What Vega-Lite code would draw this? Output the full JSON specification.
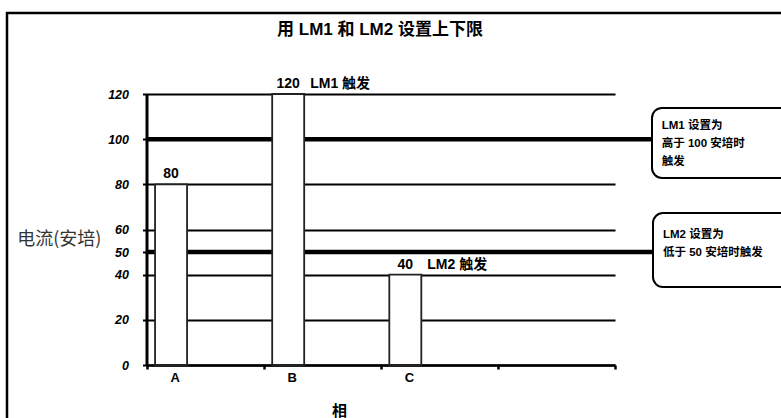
{
  "$schema": "https://vega.github.io/schema/vega-lite/v6.json",
  "width": 777,
  "height": 408,
  "autosize": {"type": "none"},
  "padding": {"left": 7, "top": 13, "right": 0, "bottom": 0},
  "background": "white",
  "config": {"view": {"stroke": "black", "strokeWidth": 2.5}},
  "title": {
    "text": "用 LM1 和 LM2 设置上下限",
    "frame": "group",
    "anchor": "middle",
    "dx": -15.5,
    "offset": -39,
    "baseline": "alphabetic",
    "font": "Liberation Sans, Noto Sans CJK SC",
    "fontSize": 17,
    "fontWeight": "bold",
    "color": "black"
  },
  "datasets": {
    "bars": [
      {"phase": "A", "current": 80, "trigger": ""},
      {"phase": "B", "current": 120, "trigger": "LM1 触发"},
      {"phase": "C", "current": 40, "trigger": "LM2 触发"}
    ],
    "limits": [
      {"limit": "LM1", "current": 100, "note": ["LM1 设置为", "高于 100  安培时", "触发"]},
      {"limit": "LM2", "current": 50, "note": ["LM2 设置为", "低于  50 安培时触发"]}
    ]
  },
  "encoding": {
    "x": {
      "field": "phase",
      "type": "nominal",
      "scale": {"type": "band", "domain": ["A", "B", "C", " "], "range": [139.5, 608], "paddingInner": 0, "paddingOuter": 0},
      "axis": {
        "orient": "bottom",
        "offset": -56,
        "tickBand": "extent",
        "labelOffset": -30.5,
        "labelAngle": 0,
        "labelFont": "Liberation Sans",
        "labelFontSize": 13,
        "labelFontWeight": "bold",
        "labelColor": "black",
        "labelPadding": 2,
        "domainColor": "black",
        "domainWidth": 2.5,
        "tickColor": "black",
        "tickWidth": 2.5,
        "tickSize": 4,
        "grid": false,
        "title": "相",
        "titleX": 332,
        "titleY": 45,
        "titleAlign": "center",
        "titleBaseline": "middle",
        "titleFont": "Noto Sans CJK SC",
        "titleFontSize": 15,
        "titleFontWeight": "bold",
        "titleColor": "black"
      }
    },
    "y": {
      "field": "current",
      "type": "quantitative",
      "scale": {"domain": [0, 120], "range": [352, 81], "nice": false, "zero": true},
      "axis": {
        "values": [0, 20, 40, 50, 60, 80, 100, 120],
        "offset": -139.5,
        "grid": true,
        "gridColor": "black",
        "gridWidth": 2,
        "gridOpacity": 1,
        "domainColor": "black",
        "domainWidth": 3,
        "tickColor": "black",
        "tickWidth": 2,
        "tickSize": 4,
        "labelFont": "Liberation Sans",
        "labelFontSize": 12.5,
        "labelFontStyle": "italic",
        "labelFontWeight": "bold",
        "labelColor": "black",
        "labelPadding": 14,
        "title": "电流(安培)",
        "titleAngle": 0,
        "titleAlign": "left",
        "titleBaseline": "middle",
        "titleX": -129.8,
        "titleY": 226,
        "titleFont": "Noto Sans CJK SC",
        "titleFontSize": 18,
        "titleFontWeight": "normal",
        "titleColor": "#333333"
      }
    }
  },
  "layer": [
    {
      "data": {"name": "limits"},
      "mark": {"type": "rule", "color": "black", "strokeWidth": 4.5, "x2Offset": 45},
      "encoding": {
        "x": {"datum": "A", "bandPosition": 0},
        "x2": {"datum": " ", "bandPosition": 1}
      }
    },
    {
      "data": {"name": "bars"},
      "layer": [
        {
          "mark": {"type": "bar", "width": 32, "xOffset": -34, "fill": "white", "stroke": "#222222", "strokeWidth": 1.8}
        },
        {
          "mark": {"type": "text", "xOffset": -34, "dy": -6, "align": "center", "baseline": "alphabetic", "font": "Liberation Sans", "fontSize": 14, "fontWeight": "bold", "color": "black"},
          "encoding": {"text": {"field": "current", "type": "quantitative"}}
        },
        {
          "mark": {"type": "text", "xOffset": -12, "dy": -6, "align": "left", "baseline": "alphabetic", "font": "Liberation Sans, Noto Sans CJK SC", "fontSize": 14, "fontWeight": "bold", "color": "black"},
          "encoding": {"text": {"field": "trigger", "type": "nominal"}}
        }
      ]
    },
    {
      "data": {"name": "limits"},
      "transform": [{"filter": "datum.limit == 'LM1'"}],
      "layer": [
        {
          "mark": {"type": "rect", "fill": "white", "stroke": "black", "strokeWidth": 2, "cornerRadius": 10, "xOffset": 37, "x2Offset": 190, "yOffset": -31.2, "y2Offset": 38.8},
          "encoding": {
            "x": {"datum": " ", "bandPosition": 1},
            "x2": {"datum": " ", "bandPosition": 1},
            "y2": {"field": "current"}
          }
        },
        {
          "mark": {"type": "text", "align": "left", "baseline": "alphabetic", "lineHeight": 18, "dx": 46.7, "dy": -10.5, "font": "Liberation Sans, Noto Sans CJK SC", "fontSize": 11.5, "fontWeight": "bold", "color": "black"},
          "encoding": {
            "x": {"datum": " ", "bandPosition": 1},
            "text": {"field": "note"}
          }
        }
      ]
    },
    {
      "data": {"name": "limits"},
      "transform": [{"filter": "datum.limit == 'LM2'"}],
      "layer": [
        {
          "mark": {"type": "rect", "fill": "white", "stroke": "black", "strokeWidth": 2, "cornerRadius": 10, "xOffset": 38, "x2Offset": 190, "yOffset": -39, "y2Offset": 35},
          "encoding": {
            "x": {"datum": " ", "bandPosition": 1},
            "x2": {"datum": " ", "bandPosition": 1},
            "y2": {"field": "current"}
          }
        },
        {
          "mark": {"type": "text", "align": "left", "baseline": "alphabetic", "lineHeight": 18, "dx": 48, "dy": -13.6, "font": "Liberation Sans, Noto Sans CJK SC", "fontSize": 11.5, "fontWeight": "bold", "color": "black"},
          "encoding": {
            "x": {"datum": " ", "bandPosition": 1},
            "text": {"field": "note"}
          }
        }
      ]
    }
  ]
}
